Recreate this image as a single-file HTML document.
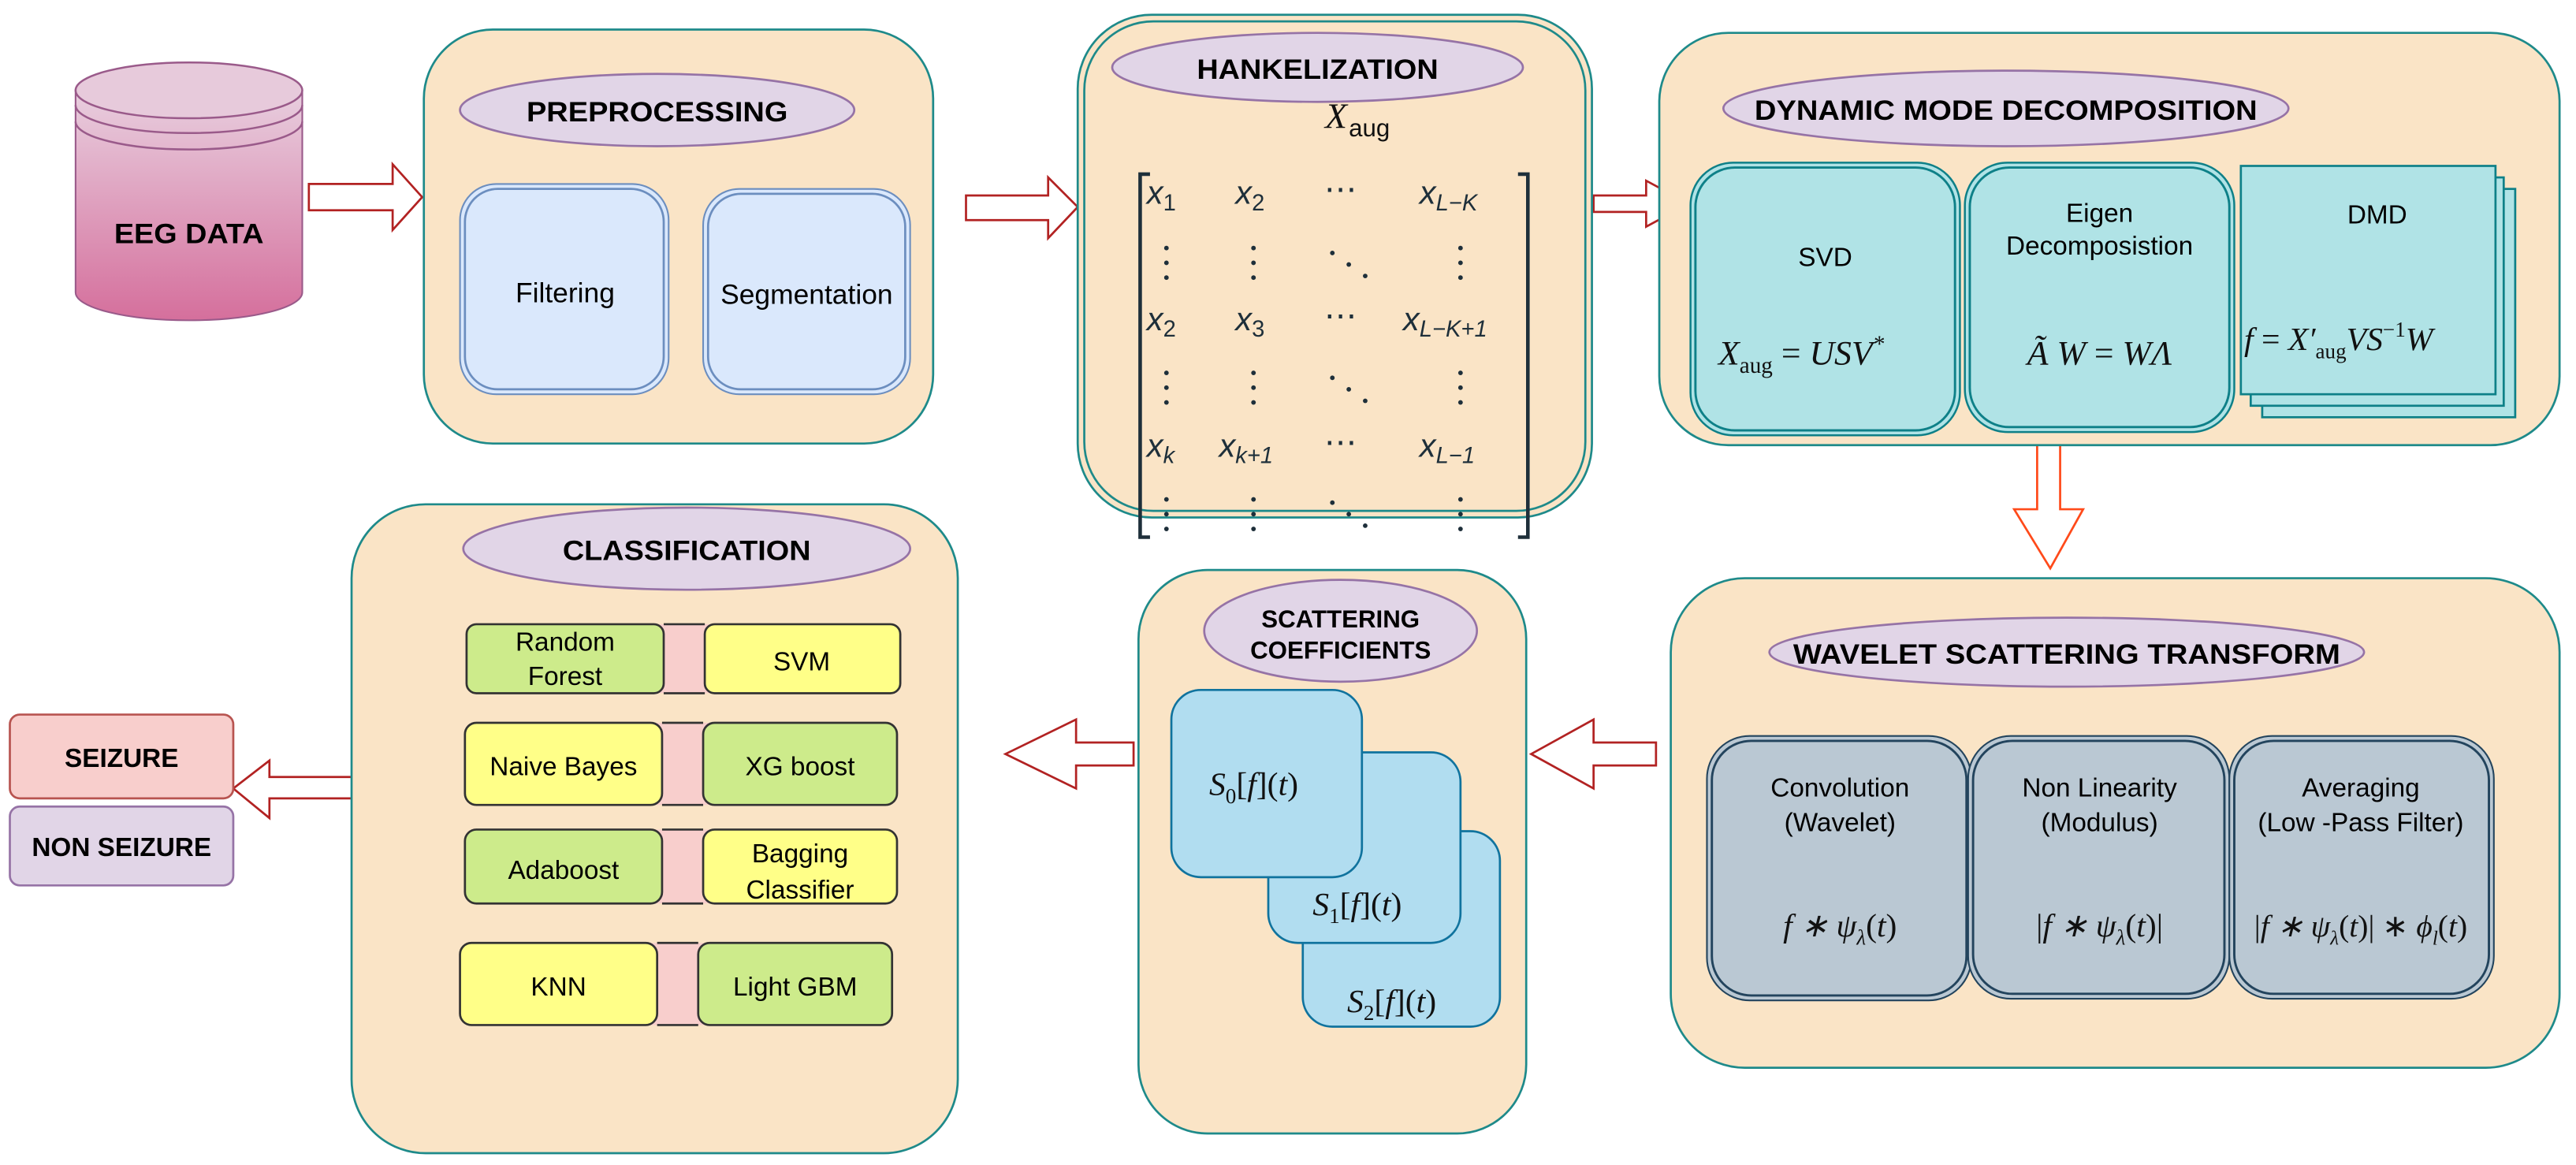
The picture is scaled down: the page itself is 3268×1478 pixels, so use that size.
<!DOCTYPE html>
<html><head><meta charset="utf-8"><style>
html,body{margin:0;padding:0;background:#fff;}
svg{display:block;}
text{font-family:"Liberation Sans",sans-serif;}
.b{font-weight:bold;fill:#000;}
.m{font-family:"Liberation Serif",serif;font-style:italic;fill:#111;}
.mm{font-family:"Liberation Serif",serif;fill:#1e2f3a;}
</style></head><body>
<svg width="3268" height="1478" viewBox="0 0 1568 709.2" preserveAspectRatio="none" xmlns="http://www.w3.org/2000/svg">
<defs>
<linearGradient id="cyl" x1="0" y1="0" x2="0" y2="1">
<stop offset="0" stop-color="#e8cfdf"/><stop offset="1" stop-color="#d56f9c"/>
</linearGradient>
</defs>
<!-- EEG cylinder -->
<path d="M46,55 L46,178 A69,17 0 0 0 184,178 L184,55 Z" fill="url(#cyl)" stroke="#9a5a8a" stroke-width="1"/>
<ellipse cx="115" cy="55" rx="69" ry="17" fill="#e7cadb" stroke="#9a5a8a" stroke-width="1.2"/>
<path d="M46,64 A69,17 0 0 0 184,64" fill="none" stroke="#9a5a8a" stroke-width="1.2"/>
<path d="M46,74 A69,17 0 0 0 184,74" fill="none" stroke="#9a5a8a" stroke-width="1.2"/>
<text x="115" y="148" class="b" font-size="17" text-anchor="middle" textLength="91" lengthAdjust="spacingAndGlyphs">EEG DATA</text>

<!-- arrows -->
<g fill="#fff" stroke="#b22222" stroke-width="1.3">
<path d="M188,112 L239,112 L239,100 L257,120 L239,140 L239,128 L188,128 Z"/>
<path d="M588,119 L638,119 L638,108 L656,126 L638,145 L638,134 L588,134 Z"/>
<path d="M970,119 L1002,119 L1002,110 L1028,124 L1002,138 L1002,129 L970,129 Z"/>
<path d="M1254,270 L1254,310 L1268,310 L1248,346 L1226,310 L1240,310 L1240,270 Z" stroke="#ff4a1a"/>
<path d="M1008,452 L1008,466 L970,466 L970,480 L932,459 L970,438 L970,452 Z"/>
<path d="M690,452 L690,466 L655,466 L655,480 L612,459 L655,438 L655,452 Z"/>
<path d="M221,473 L221,486 L164,486 L164,498 L142,480 L164,463 L164,473 Z"/>
</g>

<!-- Preprocessing -->
<rect x="258" y="18" width="310" height="252" rx="42" fill="#fae4c6" stroke="#1e8a8a" stroke-width="1.3"/>
<ellipse cx="400" cy="67" rx="120" ry="22" fill="#e1d5e7" stroke="#9673a6" stroke-width="1.3"/>
<text x="400" y="74" class="b" font-size="17" text-anchor="middle" textLength="159" lengthAdjust="spacingAndGlyphs">PREPROCESSING</text>
<rect x="280" y="112" width="127" height="128" rx="22" fill="#dae8fc" stroke="#6c8ebf" stroke-width="1"/>
<rect x="283" y="115" width="121" height="122" rx="20" fill="none" stroke="#6c8ebf" stroke-width="1.3"/>
<text x="344" y="184" font-size="17" text-anchor="middle">Filtering</text>
<rect x="428" y="115" width="126" height="125" rx="22" fill="#dae8fc" stroke="#6c8ebf" stroke-width="1"/>
<rect x="431" y="118" width="120" height="119" rx="20" fill="none" stroke="#6c8ebf" stroke-width="1.3"/>
<text x="491" y="185" font-size="17" text-anchor="middle">Segmentation</text>

<!-- Hankelization -->
<rect x="656" y="9" width="313" height="306" rx="45" fill="#fae4c6" stroke="#1e8a8a" stroke-width="1.3"/>
<rect x="660" y="13" width="305" height="298" rx="42" fill="none" stroke="#1e8a8a" stroke-width="1.3"/>
<ellipse cx="802" cy="41" rx="125" ry="21" fill="#e1d5e7" stroke="#9673a6" stroke-width="1.3"/>
<text x="802" y="48" class="b" font-size="17" text-anchor="middle" textLength="147" lengthAdjust="spacingAndGlyphs">HANKELIZATION</text>
<text x="820" y="78" class="m" font-size="22" text-anchor="end">X</text><text x="821" y="83" font-family="Liberation Serif,serif" font-size="15" fill="#111">aug</text>
<g stroke="#1e2f3a" stroke-width="2.2" fill="none">
<path d="M700,106 L694,106 L694,327 L700,327"/>
<path d="M924,106 L930,106 L930,327 L924,327"/>
</g>
<g class="mm" font-size="20">
<text x="698" y="124" font-style="italic">x<tspan font-size="14" dy="4" font-style="normal">1</tspan></text>
<text x="752" y="124" font-style="italic">x<tspan font-size="14" dy="4" font-style="normal">2</tspan></text>
<text x="806" y="122">⋯</text>
<text x="864" y="124" font-style="italic">x<tspan font-size="14" dy="4">L−K</tspan></text>
<text x="698" y="201" font-style="italic">x<tspan font-size="14" dy="4" font-style="normal">2</tspan></text>
<text x="752" y="201" font-style="italic">x<tspan font-size="14" dy="4" font-style="normal">3</tspan></text>
<text x="806" y="199">⋯</text>
<text x="854" y="201" font-style="italic">x<tspan font-size="14" dy="4">L−K+1</tspan></text>
<text x="698" y="278" font-style="italic">x<tspan font-size="14" dy="4">k</tspan></text>
<text x="742" y="278" font-style="italic">x<tspan font-size="14" dy="4">k+1</tspan></text>
<text x="806" y="276">⋯</text>
<text x="864" y="278" font-style="italic">x<tspan font-size="14" dy="4">L−1</tspan></text>
</g>
<g fill="#1e2f3a">
<g id="dc"><circle cx="710" cy="151" r="1.4"/><circle cx="710" cy="160" r="1.4"/><circle cx="710" cy="169" r="1.4"/></g>
<use href="#dc" x="53"/><use href="#dc" x="179"/>
<circle cx="811" cy="154" r="1.4"/><circle cx="821" cy="161" r="1.4"/><circle cx="831" cy="168" r="1.4"/>
<use href="#dc" y="76"/><use href="#dc" x="53" y="76"/><use href="#dc" x="179" y="76"/>
<circle cx="811" cy="230" r="1.4"/><circle cx="821" cy="237" r="1.4"/><circle cx="831" cy="244" r="1.4"/>
<use href="#dc" y="153"/><use href="#dc" x="53" y="153"/><use href="#dc" x="179" y="153"/>
<circle cx="811" cy="306" r="1.4"/><circle cx="821" cy="313" r="1.4"/><circle cx="831" cy="320" r="1.4"/>
</g>

<!-- DMD -->
<rect x="1010" y="20" width="548" height="251" rx="42" fill="#fae4c6" stroke="#1e8a8a" stroke-width="1.3"/>
<ellipse cx="1221" cy="66" rx="172" ry="23" fill="#e1d5e7" stroke="#9673a6" stroke-width="1.3"/>
<text x="1221" y="73" class="b" font-size="17" text-anchor="middle" textLength="306" lengthAdjust="spacingAndGlyphs">DYNAMIC MODE DECOMPOSITION</text>
<rect x="1029" y="99" width="164" height="166" rx="26" fill="#b0e3e6" stroke="#0e8088" stroke-width="1.2"/>
<rect x="1032" y="102" width="158" height="160" rx="24" fill="none" stroke="#0e8088" stroke-width="1.4"/>
<text x="1111" y="162" font-size="16" text-anchor="middle">SVD</text>
<text x="1046" y="222" class="m" font-size="21">X<tspan font-size="14" dy="5" font-style="normal">aug</tspan><tspan dy="-5" font-style="normal"> = </tspan>USV<tspan dy="-8" font-size="14">*</tspan></text>
<rect x="1196" y="99" width="164" height="164" rx="26" fill="#b0e3e6" stroke="#0e8088" stroke-width="1.2"/>
<rect x="1199" y="102" width="158" height="158" rx="24" fill="none" stroke="#0e8088" stroke-width="1.4"/>
<text x="1278" y="135" font-size="16" text-anchor="middle">Eigen</text>
<text x="1278" y="155" font-size="16" text-anchor="middle">Decomposistion</text>
<text x="1278" y="222" class="m" font-size="21" text-anchor="middle">Ã W <tspan font-style="normal">=</tspan> WΛ</text>
<rect x="1377" y="115" width="154" height="139" fill="#b0e3e6" stroke="#0e8088" stroke-width="1.3"/>
<rect x="1370" y="108" width="154" height="139" fill="#b0e3e6" stroke="#0e8088" stroke-width="1.3"/>
<rect x="1364" y="101" width="155" height="139" fill="#b0e3e6" stroke="#0e8088" stroke-width="1.3"/>
<text x="1447" y="136" font-size="16" text-anchor="middle">DMD</text>
<text x="1366" y="213" class="m" font-size="20">f <tspan font-style="normal">=</tspan> X′<tspan font-size="13" dy="5" font-style="normal">aug</tspan><tspan dy="-5">VS</tspan><tspan font-size="13" dy="-8" font-style="normal">−1</tspan><tspan dy="8">W</tspan></text>

<!-- WST -->
<rect x="1017" y="352" width="541" height="298" rx="45" fill="#fae4c6" stroke="#1e8a8a" stroke-width="1.3"/>
<ellipse cx="1258" cy="397" rx="181" ry="21" fill="#e1d5e7" stroke="#9673a6" stroke-width="1.3"/>
<text x="1258" y="404" class="b" font-size="17" text-anchor="middle" textLength="333" lengthAdjust="spacingAndGlyphs">WAVELET SCATTERING TRANSFORM</text>
<g fill="#bac8d3" stroke="#23445d">
<rect x="1039" y="448" width="161" height="161" rx="26" stroke-width="1"/>
<rect x="1042" y="451" width="155" height="155" rx="24" fill="none" stroke-width="1.4"/>
<rect x="1198" y="448" width="159" height="160" rx="26" stroke-width="1"/>
<rect x="1201" y="451" width="153" height="154" rx="24" fill="none" stroke-width="1.4"/>
<rect x="1357" y="448" width="161" height="160" rx="26" stroke-width="1"/>
<rect x="1360" y="451" width="155" height="154" rx="24" fill="none" stroke-width="1.4"/>
</g>
<text x="1120" y="485" font-size="16" text-anchor="middle">Convolution</text>
<text x="1120" y="506" font-size="16" text-anchor="middle">(Wavelet)</text>
<text x="1120" y="570" class="m" font-size="20" text-anchor="middle">f ∗ ψ<tspan font-size="13" dy="5">λ</tspan><tspan dy="-5" font-style="normal">(</tspan>t<tspan font-style="normal">)</tspan></text>
<text x="1278" y="485" font-size="16" text-anchor="middle">Non Linearity</text>
<text x="1278" y="506" font-size="16" text-anchor="middle">(Modulus)</text>
<text x="1278" y="570" class="m" font-size="20" text-anchor="middle"><tspan font-style="normal">|</tspan>f ∗ ψ<tspan font-size="13" dy="5">λ</tspan><tspan dy="-5" font-style="normal">(</tspan>t<tspan font-style="normal">)|</tspan></text>
<text x="1437" y="485" font-size="16" text-anchor="middle">Averaging</text>
<text x="1437" y="506" font-size="16" text-anchor="middle">(Low -Pass Filter)</text>
<text x="1437" y="570" class="m" font-size="19" text-anchor="middle"><tspan font-style="normal">|</tspan>f ∗ ψ<tspan font-size="12" dy="5">λ</tspan><tspan dy="-5" font-style="normal">(</tspan>t<tspan font-style="normal">)| ∗ </tspan>ϕ<tspan font-size="12" dy="5">l</tspan><tspan dy="-5" font-style="normal">(</tspan>t<tspan font-style="normal">)</tspan></text>

<!-- Scattering coefficients -->
<rect x="693" y="347" width="236" height="343" rx="42" fill="#fae4c6" stroke="#1e8a8a" stroke-width="1.3"/>
<ellipse cx="816" cy="384" rx="83" ry="31" fill="#e1d5e7" stroke="#9673a6" stroke-width="1.3"/>
<text x="816" y="382" class="b" font-size="15" text-anchor="middle">SCATTERING</text>
<text x="816" y="401" class="b" font-size="15" text-anchor="middle">COEFFICIENTS</text>
<g fill="#b1ddf0" stroke="#10739e" stroke-width="1.3">
<rect x="793" y="506" width="120" height="119" rx="18"/>
<rect x="772" y="458" width="117" height="116" rx="18"/>
<rect x="713" y="420" width="116" height="114" rx="18"/>
</g>
<text x="736" y="484" class="m" font-size="20">S<tspan font-size="13" dy="5" font-style="normal">0</tspan><tspan dy="-5" font-style="normal">[</tspan>f<tspan font-style="normal">](</tspan>t<tspan font-style="normal">)</tspan></text>
<text x="799" y="557" class="m" font-size="20">S<tspan font-size="13" dy="5" font-style="normal">1</tspan><tspan dy="-5" font-style="normal">[</tspan>f<tspan font-style="normal">](</tspan>t<tspan font-style="normal">)</tspan></text>
<text x="820" y="616" class="m" font-size="20">S<tspan font-size="13" dy="5" font-style="normal">2</tspan><tspan dy="-5" font-style="normal">[</tspan>f<tspan font-style="normal">](</tspan>t<tspan font-style="normal">)</tspan></text>

<!-- Classification -->
<rect x="214" y="307" width="369" height="395" rx="45" fill="#fae4c6" stroke="#1e8a8a" stroke-width="1.3"/>
<ellipse cx="418" cy="334" rx="136" ry="25" fill="#e1d5e7" stroke="#9673a6" stroke-width="1.3"/>
<text x="418" y="341" class="b" font-size="17" text-anchor="middle" textLength="151" lengthAdjust="spacingAndGlyphs">CLASSIFICATION</text>
<g stroke="#333" stroke-width="1.3">
<rect x="395" y="380" width="40" height="42" fill="#f8cecc" stroke="none"/>
<rect x="284" y="380" width="120" height="42" rx="6" fill="#cdeb8b"/>
<rect x="429" y="380" width="119" height="42" rx="6" fill="#ffff88"/>
<path d="M404,380 L429,380 M404,422 L429,422"/>
<rect x="395" y="440" width="40" height="50" fill="#f8cecc" stroke="none"/>
<rect x="283" y="440" width="120" height="50" rx="7" fill="#ffff88"/>
<rect x="428" y="440" width="118" height="50" rx="7" fill="#cdeb8b"/>
<path d="M403,440 L428,440 M403,490 L428,490"/>
<rect x="395" y="505" width="40" height="45" fill="#f8cecc" stroke="none"/>
<rect x="283" y="505" width="120" height="45" rx="7" fill="#cdeb8b"/>
<rect x="428" y="505" width="118" height="45" rx="7" fill="#ffff88"/>
<path d="M403,505 L428,505 M403,550 L428,550"/>
<rect x="392" y="574" width="40" height="50" fill="#f8cecc" stroke="none"/>
<rect x="280" y="574" width="120" height="50" rx="7" fill="#ffff88"/>
<rect x="425" y="574" width="118" height="50" rx="7" fill="#cdeb8b"/>
<path d="M400,574 L425,574 M400,624 L425,624"/>
</g>
<g font-size="16" text-anchor="middle">
<text x="344" y="396">Random</text><text x="344" y="417">Forest</text>
<text x="488" y="408">SVM</text>
<text x="343" y="472">Naive Bayes</text>
<text x="487" y="472">XG boost</text>
<text x="343" y="535">Adaboost</text>
<text x="487" y="525">Bagging</text><text x="487" y="547">Classifier</text>
<text x="340" y="606">KNN</text>
<text x="484" y="606">Light GBM</text>
</g>

<!-- outputs -->
<rect x="6" y="435" width="136" height="51" rx="6" fill="#f8cecc" stroke="#b85450" stroke-width="1.3"/>
<text x="74" y="467" class="b" font-size="16" text-anchor="middle">SEIZURE</text>
<rect x="6" y="491" width="136" height="48" rx="6" fill="#e1d5e7" stroke="#9673a6" stroke-width="1.3"/>
<text x="74" y="521" class="b" font-size="16" text-anchor="middle">NON SEIZURE</text>
</svg>
</body></html>
